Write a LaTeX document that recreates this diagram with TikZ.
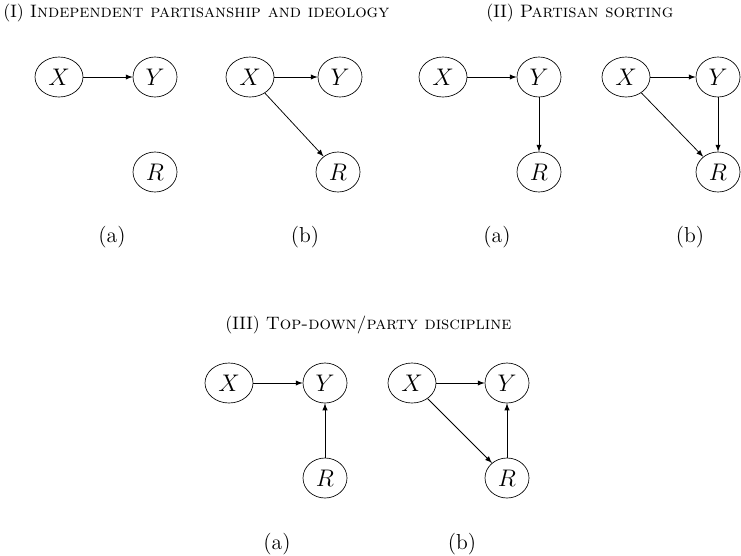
\documentclass[tikz,border=0pt]{standalone}
\usetikzlibrary{shapes.geometric,arrows}
\begin{document}
\begin{tikzpicture}[x=0.6pt,y=-0.6pt,
  var/.style={draw,ellipse,minimum width=26.4pt,minimum height=24pt,inner sep=1pt,font=\fontsize{13.5}{15}\selectfont},
  xvar/.style={var,minimum width=28.8pt},
  arr/.style={-latex,line width=0.45pt},
  subcap/.style={font=\fontsize{13}{15}\selectfont},
  ttl/.style={font=\fontsize{10.8}{13}\selectfont,anchor=west,inner sep=0pt}]
\useasboundingbox (0,0) rectangle (741,555);
% titles
\node[ttl] (t1) at (3,13) {(I) \textsc{Independent partisanship and ideology}};
\node[ttl] (t2) at (486,13) {(II) \textsc{Partisan sorting}};
\node[ttl] (t3) at (225,325) {(III) \textsc{Top-down/party discipline}};
% I(a)
\node[xvar] (x1) at (59,77) {$X$};
\node[var] (y1) at (155,77) {$Y$};
\node[var] (r1) at (155,172) {$R$};
\draw[arr] (x1) -- (y1);
\node[subcap] (c1) at (112,237) {(a)};
% I(b)
\node[xvar] (x2) at (250,77) {$X$};
\node[var] (y2) at (340,77) {$Y$};
\node[var] (r2) at (338,172) {$R$};
\draw[arr] (x2) -- (y2);
\draw[arr] (x2) -- (r2);
\node[subcap] (c2) at (305,237) {(b)};
% II(a)
\node[xvar] (x3) at (443,77) {$X$};
\node[var] (y3) at (539,77) {$Y$};
\node[var] (r3) at (539,172) {$R$};
\draw[arr] (x3) -- (y3);
\draw[arr] (y3) -- (r3);
\node[subcap] (c3) at (497,237) {(a)};
% II(b)
\node[xvar] (x4) at (626,77) {$X$};
\node[var] (y4) at (718,77) {$Y$};
\node[var] (r4) at (718,172) {$R$};
\draw[arr] (x4) -- (y4);
\draw[arr] (y4) -- (r4);
\draw[arr] (x4) -- (r4);
\node[subcap] (c4) at (690,237) {(b)};
% III(a)
\node[xvar] (x5) at (229,383) {$X$};
\node[var] (y5) at (325,383) {$Y$};
\node[var] (r5) at (325,478) {$R$};
\draw[arr] (x5) -- (y5);
\draw[arr] (r5) -- (y5);
\node[subcap] (c5) at (277,544) {(a)};
% III(b)
\node[xvar] (x6) at (412,383) {$X$};
\node[var] (y6) at (507,383) {$Y$};
\node[var] (r6) at (507,478) {$R$};
\draw[arr] (x6) -- (y6);
\draw[arr] (x6) -- (r6);
\draw[arr] (r6) -- (y6);
\node[subcap] (c6) at (462,544) {(b)};
\end{tikzpicture}
\end{document}
